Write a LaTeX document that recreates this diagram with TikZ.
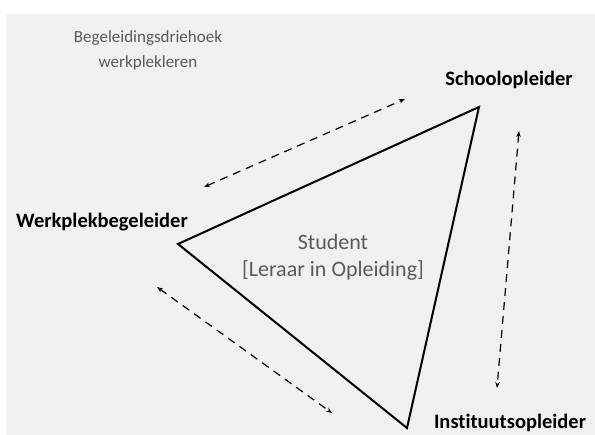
\documentclass[tikz,border=0pt]{standalone}
\usepackage{fontspec}
\setmainfont{Carlito}[Ligatures=NoCommon]
\usetikzlibrary{arrows.meta}
\definecolor{achtergrond}{HTML}{F0F0F0}
\definecolor{grijs}{HTML}{5A5A5A}

\begin{document}
\begin{tikzpicture}[x=1pt,y=-1pt,>={Stealth[length=6pt,width=4.5pt]},
  rol/.style={font=\bfseries\fontsize{20.5}{24}\selectfont},
  tekst/.style={text=grijs,align=center,font=\fontsize{17}{25}\selectfont},
  pijl/.style={<->,dash pattern=on 8pt off 6pt,line width=1.2pt}]
\useasboundingbox (0,0) rectangle (595,435);
\fill[achtergrond] (7,14) rectangle (595,435);
% hoekpunten van de driehoek
\coordinate (werk) at (178,244);
\coordinate (school) at (479,107);
\coordinate (inst) at (407,428);
\draw[line width=2pt,line join=miter] (werk)--(school)--(inst)--cycle;
% rollen
\node[rol] (lwerk) at (102,222) {Werkplekbegeleider};
\node[rol] (lschool) at (509,80) {Schoolopleider};
\node[rol,inner sep=1pt] (linst) at (510,423) {Instituutsopleider};
\node[tekst] (titel) at (148,50) {Begeleidingsdriehoek\\werkplekleren};
\node[tekst,font=\fontsize{22}{27}\selectfont] (student) at (333,257) {Student\\{[Leraar in Opleiding]}};
% pijlen
\coordinate (a1) at (204,187);
\coordinate (a2) at (405,99);
\coordinate (b1) at (519,131);
\coordinate (b2) at (497,388);
\coordinate (c1) at (157,287);
\coordinate (c2) at (332,413);
\draw[pijl] (a1)--(a2);
\draw[pijl] (b1)--(b2);
\draw[pijl] (c1)--(c2);
\end{tikzpicture}
\end{document}
